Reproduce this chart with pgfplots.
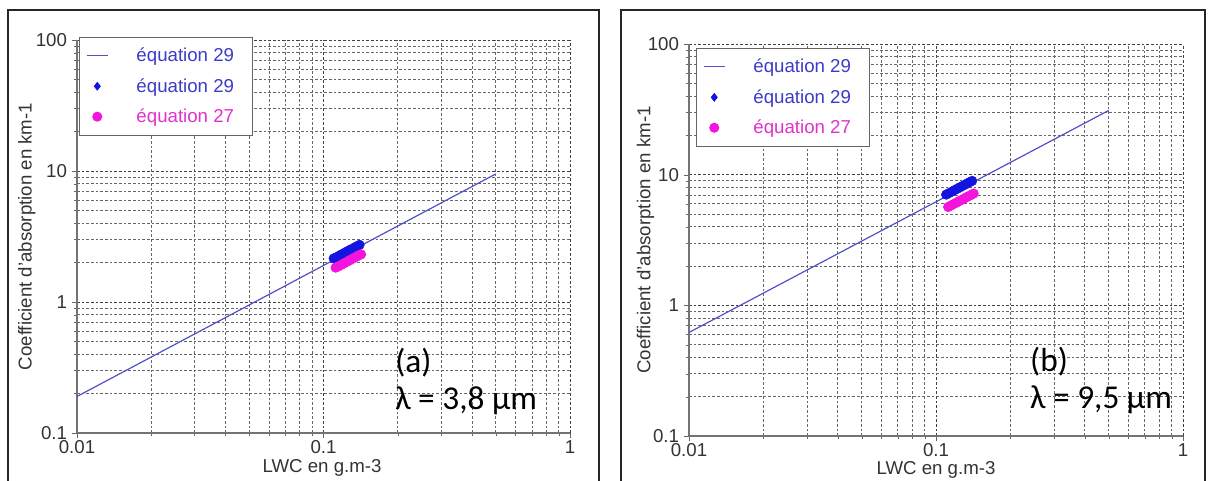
\documentclass[border=0pt]{standalone}
\usepackage{pgfplots}
\pgfplotsset{compat=1.18}
\usepackage{fontspec}
\setmainfont{Liberation Sans}
\newfontfamily\annfont{Carlito}
\definecolor{lineblue}{RGB}{80,80,200}
\definecolor{markblue}{RGB}{20,20,225}
\definecolor{markmag}{RGB}{245,20,220}
\definecolor{txtblue}{RGB}{60,60,200}
\definecolor{txtmag}{RGB}{225,50,205}
\pgfplotsset{
  every axis/.append style={
    scale only axis,
    xmode=log, ymode=log,
    xmin=0.01, xmax=1, ymin=0.1, ymax=100,
    xtick={0.01,0.1,1}, xticklabels={0.01,0.1,1},
    ytick={0.1,1,10,100}, yticklabels={0.1,1,10,100},
    minor xtick={0.02,0.03,0.04,0.05,0.06,0.07,0.08,0.09,0.2,0.3,0.4,0.5,0.6,0.7,0.8,0.9},
    minor ytick={0.2,0.3,0.4,0.5,0.6,0.7,0.8,0.9,2,3,4,5,6,7,8,9,20,30,40,50,60,70,80,90},
    grid=both,
    major grid style={black!75, line width=0.5pt, dash pattern=on 2pt off 1.5pt},
    minor grid style={black!60, line width=0.45pt, dash pattern=on 2pt off 1.5pt},
    axis lines*=left,
    axis line style={black!55, line width=0.8pt},
    tick align=outside,
    major tick length=4pt, minor tick length=2.5pt,
    tick style={black!60},
    tick label style={font=\fontsize{14}{16}\selectfont, text=black!80},
    xticklabel style={yshift=2pt},
    label style={font=\fontsize{14}{16}\selectfont, text=black!80},
    legend style={draw=black!60, line width=0.7pt, font=\fontsize{14}{16}\selectfont,
      anchor=north west, row sep=7pt, inner xsep=5pt, inner ysep=6pt,
      /tikz/every odd column/.append style={column sep=19pt}},
    legend cell align=left,
    clip=false,
  },
}
\newcommand{\lline}{\draw[lineblue, line width=0.8pt] (0pt,0pt) -- (16pt,0pt);}
\newcommand{\ldia}{\fill[markblue] (8pt,2.8pt) -- (10.2pt,0pt) -- (8pt,-2.8pt) -- (5.8pt,0pt) -- cycle;}
\newcommand{\lcirc}{\fill[markmag] (8pt,0pt) circle[radius=3.4pt];}
\begin{document}
\begin{tikzpicture}
\path[use as bounding box] (0,0) rectangle (906.75pt,360.75pt);
\draw[line width=1.4pt, black!85] (6pt,-2pt) -- (6pt,353.25pt) -- (449.25pt,353.25pt) -- (449.25pt,-2pt);
\draw[line width=1.4pt, black!85] (465.75pt,-2pt) -- (465.75pt,353.25pt) -- (903.75pt,353.25pt) -- (903.75pt,-2pt);

\begin{axis}[at={(57.75pt,36pt)}, anchor=south west, width=369.75pt, height=294.75pt,
  xlabel={LWC en g.m-3}, ylabel={Coefficient d'absorption en km-1},
  xlabel style={at={(axis description cs:0.497,-0.1)}, anchor=base},
  ylabel style={at={(axis description cs:-0.102,0.5)}, anchor=center},
  legend style={at={(axis description cs:0.004,1.008)}}]
\addplot[lineblue, line width=0.9pt, legend image code/.code={\lline}] coordinates {(0.01,0.19) (0.5,9.5)};
\addlegendentry{\makebox[80pt][l]{\textcolor{txtblue}{équation 29}}}
\addplot[only marks, mark=*, mark size=3.6pt, color=markblue, legend image code/.code={\ldia}] coordinates {
(0.110,2.15) (0.113,2.20) (0.116,2.26) (0.119,2.32) (0.122,2.38) (0.125,2.44) (0.128,2.50) (0.131,2.55) (0.134,2.61) (0.137,2.67) (0.140,2.73)};
\addlegendentry{\textcolor{txtblue}{équation 29}}
\addplot[only marks, mark=*, mark size=3.6pt, color=markmag, legend image code/.code={\lcirc}] coordinates {
(0.112,1.83) (0.115,1.87) (0.118,1.92) (0.121,1.97) (0.124,2.02) (0.127,2.07) (0.130,2.12) (0.133,2.17) (0.136,2.22) (0.139,2.27) (0.142,2.31)};
\addlegendentry{\textcolor{txtmag}{équation 27}}
\node[anchor=base west, font=\annfont\fontsize{25}{30}\selectfont, inner sep=0pt] at (axis cs:0.195,0.292) {(a)};
\node[anchor=base west, font=\annfont\fontsize{25}{30}\selectfont, inner sep=0pt] at (axis cs:0.195,0.152) {λ = 3,8 µm};
\end{axis}

\begin{axis}[at={(516.75pt,33.75pt)}, anchor=south west, width=370.5pt, height=294pt,
  xlabel={LWC en g.m-3}, ylabel={Coefficient d'absorption en km-1},
  xlabel style={at={(axis description cs:0.5,-0.097)}, anchor=base},
  ylabel style={at={(axis description cs:-0.088,0.5)}, anchor=center},
  legend style={at={(axis description cs:0.014,0.99)}}]
\addplot[lineblue, line width=0.9pt, legend image code/.code={\lline}] coordinates {(0.01,0.62) (0.5,31)};
\addlegendentry{\makebox[80pt][l]{\textcolor{txtblue}{équation 29}}}
\addplot[only marks, mark=*, mark size=3.6pt, color=markblue, legend image code/.code={\ldia}] coordinates {
(0.110,7.04) (0.113,7.23) (0.116,7.42) (0.119,7.62) (0.122,7.81) (0.125,8.00) (0.128,8.19) (0.131,8.38) (0.134,8.58) (0.137,8.77) (0.140,8.96)};
\addlegendentry{\textcolor{txtblue}{équation 29}}
\addplot[only marks, mark=*, mark size=3.6pt, color=markmag, legend image code/.code={\lcirc}] coordinates {
(0.112,5.66) (0.115,5.81) (0.118,5.96) (0.121,6.11) (0.124,6.26) (0.127,6.41) (0.130,6.57) (0.133,6.72) (0.136,6.87) (0.139,7.02) (0.142,7.17)};
\addlegendentry{\textcolor{txtmag}{équation 27}}
\node[anchor=base west, font=\annfont\fontsize{25}{30}\selectfont, inner sep=0pt] at (axis cs:0.24,0.309) {(b)};
\node[anchor=base west, font=\annfont\fontsize{25}{30}\selectfont, inner sep=0pt] at (axis cs:0.24,0.161) {λ = 9,5 µm};
\end{axis}
\end{tikzpicture}
\end{document}
